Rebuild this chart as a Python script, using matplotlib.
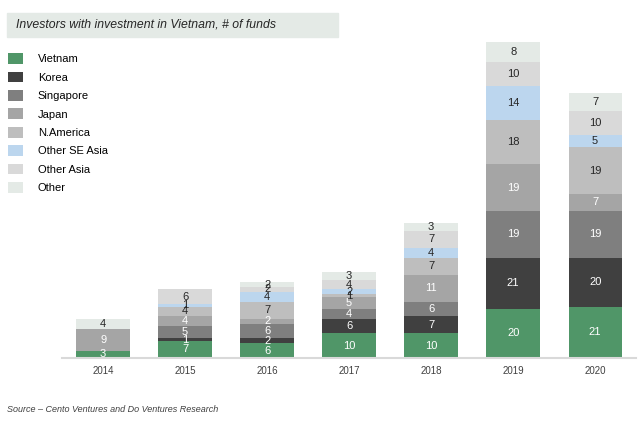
import matplotlib
matplotlib.use("Agg")
from matplotlib import pyplot as plt
import numpy as np

plt.rcParams['font.family'] = ['Liberation Sans', 'DejaVu Sans']

# data
years = ['2014', '2015', '2016', '2017', '2018', '2019', '2020']
vietnam = [3, 7, 6, 10, 10, 20, 21]
korea = [0, 1, 2, 6, 7, 21, 20]
singapore = [0, 5, 6, 4, 6, 19, 19]
japan = [9, 4, 2, 5, 11, 19, 7]
n_america = [0, 4, 7, 1, 7, 18, 19]
other_se_asia = [0, 1, 4, 2, 4, 14, 5]
other_asia = [0, 6, 2, 4, 7, 10, 10]
other = [4, 0, 2, 3, 3, 8, 7]

series = [
    ('Vietnam', vietnam, '#509668', 'white'),
    ('Korea', korea, '#404040', 'white'),
    ('Singapore', singapore, '#7f7f7f', 'white'),
    ('Japan', japan, '#a5a5a5', 'white'),
    ('N.America', n_america, '#bebebe', '#262626'),
    ('Other SE Asia', other_se_asia, '#bcd6ee', '#262626'),
    ('Other Asia', other_asia, '#d9d9d9', '#262626'),
    ('Other', other, '#e4eae6', '#262626'),
]

fig = plt.figure(figsize=(6.4, 4.23), dpi=100)
ax = fig.add_axes([0.097, 0.1537, 0.897, 0.747])

x = np.arange(len(years))
bottom = np.zeros(len(years))
handles = []
for name, vals, color, tcolor in series:
    vals = np.array(vals, dtype=float)
    bars = ax.bar(x, vals, 0.65, bottom=bottom, color=color, label=name)
    handles.append(bars)
    for xi, v, b in zip(x, vals, bottom):
        if v > 0:
            ax.text(xi, b + v / 2, str(int(v)), ha='center', va='center',
                    fontsize=8, color=tcolor)
    bottom += vals

ax.set_xlim(-0.5, 6.5)
ax.set_ylim(0, 129)
ax.set_xticks(x)
ax.set_xticklabels(years, fontsize=7, color='#404040')
ax.tick_params(axis='x', length=0, pad=6)
ax.set_yticks([])
for s in ['top', 'right', 'left']:
    ax.spines[s].set_visible(False)
ax.spines['bottom'].set_color('#d9d9d9')
ax.spines['bottom'].set_linewidth(1.5)

# title box
fig.text(0.025, 0.941, 'Investors with investment in Vietnam, # of funds',
         fontsize=8.8, style='italic', color='#262626', va='center', ha='left')
fig.patches.append(plt.Rectangle((0.011, 0.913), 0.517, 0.057,
                                 transform=fig.transFigure, color='#e4eae6',
                                 zorder=-1))

fig.legend(handles=handles, loc='upper left', bbox_to_anchor=(0.005, 0.885),
           frameon=False, fontsize=8, handlelength=1.4, handleheight=1.1,
           handletextpad=1.3, labelspacing=0.66, borderaxespad=0)

fig.text(0.011, 0.032, 'Source \u2013 Cento Ventures and Do Ventures Research',
         fontsize=6.5, style='italic', color='#404040', ha='left', va='center')

plt.savefig('out.png', dpi=100)
